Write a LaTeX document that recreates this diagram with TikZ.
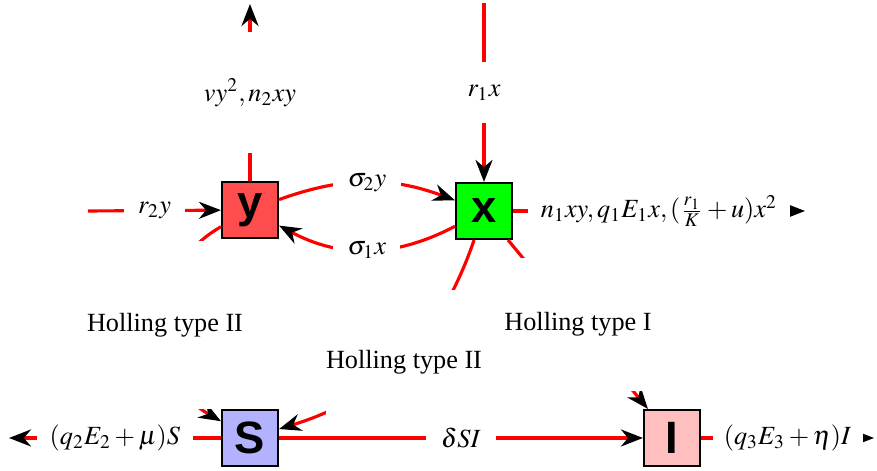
\documentclass[tikz,border=0pt]{standalone}
\usepackage{mathptmx}
\usepackage{fontspec}
\setmainfont{Liberation Serif}
\newfontfamily\popfont{Liberation Sans}
\usetikzlibrary{arrows.meta}

\begin{document}
\begin{tikzpicture}[
  x=0.0134cm, y=-0.0134cm,
  pop/.style={draw, thick, minimum size=0.75cm, inner sep=0pt, font=\popfont\bfseries\LARGE},
  flow/.style={draw=red, very thick, -{Stealth[black, length=8.4pt, width=6.5pt]}},
  rate/.style={fill=white, inner sep=1pt},
  holl/.style={fill=white, inner xsep=0pt}
]
\useasboundingbox (0,0) rectangle (877,471);

\node[pop, fill=red!70] (y) at (250,210) {y};
\node[pop, fill=green] (x) at (484,211) {x};
\node[pop, fill=blue!30] (S) at (250,438) {S};
\node[pop, fill=red!25] (I) at (672,438) {I};

\coordinate (yout) at (250,4);
\coordinate (xin) at (484,3);
\coordinate (yin) at (88,211);
\coordinate (xout) at (805,211);
\coordinate (Sout) at (9,438);
\coordinate (Iout) at (874,438);

\draw[flow] (y) -- node[rate, pos=0.5, minimum height=1.63cm] {$vy^2, n_2xy$} (yout);
\draw[flow] (xin) -- node[rate, minimum height=0.82cm] {$r_1x$} (x);
\draw[flow] (yin) -- node[rate, minimum width=0.83cm] {$r_2y$} (y);
\draw[flow] (y) to[bend left=20] node[rate, minimum width=0.9cm] {$\sigma_2y$} (x);
\draw[flow] (x) to[bend left=28] node[rate, minimum width=0.9cm] {$\sigma_1x$} (y);
\draw[flow] (x) -- node[rate, minimum width=3.5cm] {$n_1xy, q_1E_1x, (\frac{r_1}{K}+u)x^2$} (xout);

\draw[flow] (y) to[bend right=60, looseness=1.2] (S);
\node[holl, minimum height=2.25cm] (hys) at (165,325) {Holling type II};
\draw[flow] (x) to[bend left=27] (S);
\node[holl, minimum height=1.93cm] (hxs) at (404,362) {Holling type II};
\draw[flow] (x) -- node[holl, minimum height=1.77cm] (hxi) {Holling type I} (I);

\draw[flow] (S) -- node[rate, minimum width=2.1cm] {$(q_2E_2+\mu)S$} (Sout);
\draw[flow] (S) -- node[rate, minimum width=0.94cm] {$\delta SI$} (I);
\draw[flow] (I) -- node[rate, minimum width=2.01cm] {$(q_3E_3+\eta)I$} (Iout);
\end{tikzpicture}
\end{document}
